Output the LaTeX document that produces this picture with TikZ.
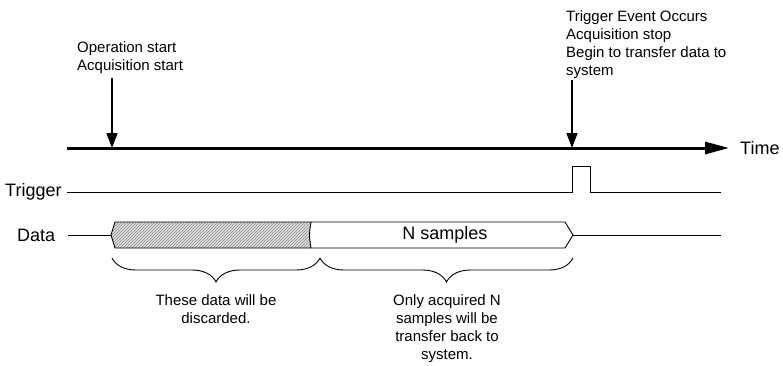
\documentclass[tikz,border=0pt]{standalone}
\usepackage{fontspec}
\setmainfont{Liberation Sans}
\usetikzlibrary{arrows.meta,patterns,decorations.pathreplacing}
\tikzset{
  note/.style={inner sep=0pt,font=\fontsize{15}{18}\selectfont},
  lbl/.style={inner sep=0pt,font=\fontsize{18}{21}\selectfont},
  evarrow/.style={line width=1.6pt,-{Triangle[length=15pt,width=11pt]}},
  axis/.style={line width=3pt,-{Triangle[length=24pt,width=12pt]}},
  sig/.style={line width=0.9pt},
  brc/.style={line width=0.9pt,decorate,decoration={brace,mirror,amplitude=24pt,aspect=0.5}},
}
\begin{document}
\begin{tikzpicture}[x=1pt,y=-1pt]
\useasboundingbox (0,0) rectangle (783,365);
% texts
\node[note,anchor=north west,align=left] (opstart) at (77,41) {Operation start\\Acquisition start};
\node[note,anchor=north west,align=left] (trigtxt) at (566,10.5) {Trigger Event Occurs\\Acquisition stop\\Begin to transfer data to\\system};
\node[lbl,anchor=west] (time) at (740,148) {Time};
\node[lbl,anchor=west] (trig) at (5,192) {Trigger};
\node[lbl,anchor=west] (data) at (17,235) {Data};
% coordinates
\coordinate (ax0) at (67,148);
\coordinate (ax1) at (729,148);
\coordinate (a1s) at (112,78);
\coordinate (a1e) at (112,148);
\coordinate (a2s) at (572,80);
\coordinate (a2e) at (572,148);
% time axis
\draw[axis] (ax0) -- (ax1);
\draw[evarrow] (a1s) -- (a1e);
\draw[evarrow] (a2s) -- (a2e);
% trigger signal
\coordinate (t0) at (67,192);
\coordinate (t1) at (721,192);
\draw[sig] (t0) -- (572,192) -- (572,166) -- (590,166) -- (590,192) -- (t1);
% data signal
\coordinate (d0) at (68,235);
\coordinate (d1) at (721,235);
\draw[sig] (d0) -- (111,235);
\draw[sig] (573,235) -- (d1);
\fill[gray!25] (115,222) -- (311,222) .. controls (309,235) .. (311,248) -- (115,248) -- (111,235) -- cycle;
\fill[pattern=north east lines,pattern color=gray!90] (115,222) -- (311,222) .. controls (309,235) .. (311,248) -- (115,248) -- (111,235) -- cycle;
\draw[sig] (115,222) -- (311,222) .. controls (309,235) .. (311,248) -- (115,248) -- (111,235) -- cycle;
\draw[sig] (311,222) -- (565,222) -- (573,235) -- (565,248) -- (311,248);
\node[lbl] (ns) at (445,235) {N samples};
% braces
\coordinate (b1a) at (112,258);
\coordinate (b1b) at (320,258);
\coordinate (b2b) at (573,258);
\draw[brc] (b1a) -- (b1b);
\draw[brc] (b1b) -- (b2b);
\node[note,anchor=north,align=center] (disc) at (216,294) {These data will be\\discarded.};
\node[note,anchor=north,align=center] (keep) at (447,294) {Only acquired N\\samples will be\\transfer back to\\system.};
\end{tikzpicture}
\end{document}
